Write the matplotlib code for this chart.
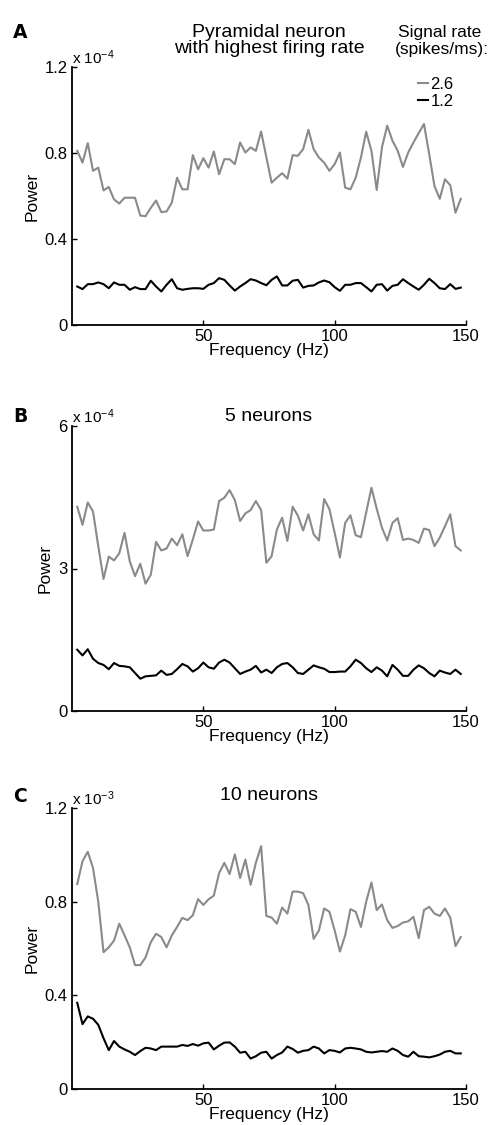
import numpy as np
import matplotlib
matplotlib.use('Agg')
import matplotlib.pyplot as plt

plt.rcParams['font.family'] = ['Liberation Sans', 'DejaVu Sans']
plt.rcParams['mathtext.default'] = 'regular'

# frequency bins (Hz), 2 Hz resolution
freq = np.arange(2, 149, 2)

# panel A, power in units of 1e-4
a_high = [0.81, 0.755, 0.846, 0.717, 0.732, 0.626, 0.642, 0.584, 0.565, 0.592,
          0.592, 0.592, 0.509, 0.506, 0.545, 0.579, 0.525, 0.528, 0.569, 0.685,
          0.631, 0.631, 0.79, 0.724, 0.776, 0.732, 0.807, 0.701, 0.771, 0.771,
          0.748, 0.849, 0.802, 0.826, 0.81, 0.9, 0.78,
          0.662, 0.685, 0.706, 0.681, 0.79, 0.787, 0.818, 0.908, 0.818, 0.779,
          0.755, 0.717, 0.748, 0.802, 0.639, 0.631, 0.685, 0.779, 0.899, 0.81,
          0.628, 0.826, 0.927, 0.857, 0.81, 0.735, 0.802, 0.849, 0.893, 0.935,
          0.794, 0.646, 0.587, 0.678, 0.65, 0.522, 0.587]
a_low = [0.179, 0.167, 0.19, 0.19, 0.198, 0.19, 0.171, 0.198, 0.187, 0.187,
         0.164, 0.176, 0.167, 0.167, 0.206, 0.179, 0.156, 0.187, 0.213, 0.171,
         0.164, 0.168, 0.171, 0.171, 0.168, 0.187, 0.195, 0.218, 0.21, 0.184,
         0.16, 0.179, 0.195, 0.213, 0.207, 0.195, 0.185, 0.21, 0.226,
         0.184, 0.184, 0.206, 0.21, 0.174, 0.182, 0.184, 0.198, 0.207, 0.199,
         0.176, 0.159, 0.187, 0.187, 0.195, 0.195, 0.176, 0.156, 0.187, 0.19,
         0.16, 0.182, 0.187, 0.213, 0.195, 0.179, 0.164, 0.187, 0.215, 0.195,
         0.171, 0.167, 0.19, 0.168, 0.174]

# panel B, units of 1e-4
b_high = [4.30, 3.92, 4.39, 4.20, 3.47, 2.78, 3.25, 3.17, 3.32, 3.75,
          3.15, 2.84, 3.10, 2.68, 2.87, 3.56, 3.38, 3.42, 3.63, 3.49,
          3.72, 3.26, 3.61, 3.99, 3.80, 3.80, 3.82, 4.42, 4.49, 4.65,
          4.44, 4.00, 4.16, 4.23, 4.42, 4.23, 3.12,
          3.26, 3.82, 4.07, 3.58, 4.30, 4.11, 3.80, 4.14, 3.72, 3.59,
          4.46, 4.25, 3.75, 3.23, 3.96, 4.12, 3.70, 3.66, 4.18, 4.70,
          4.26, 3.86, 3.59, 3.96, 4.06, 3.60, 3.63, 3.60, 3.54, 3.84,
          3.81, 3.47, 3.65, 3.89, 4.14, 3.47, 3.38]
b_low = [1.29, 1.17, 1.30, 1.10, 1.01, 0.97, 0.88, 1.01, 0.95, 0.94,
         0.92, 0.80, 0.68, 0.73, 0.74, 0.75, 0.85, 0.76, 0.78, 0.88,
         0.99, 0.94, 0.83, 0.90, 1.02, 0.92, 0.89, 1.02, 1.08, 1.02,
         0.90, 0.78, 0.83, 0.87, 0.95, 0.81, 0.87,
         0.80, 0.92, 0.99, 1.01, 0.92, 0.80, 0.78, 0.87, 0.96, 0.92,
         0.89, 0.82, 0.82, 0.83, 0.83, 0.94, 1.08, 1.01, 0.90, 0.82,
         0.92, 0.85, 0.73, 0.97, 0.87, 0.74, 0.74, 0.87, 0.96, 0.90,
         0.80, 0.73, 0.85, 0.81, 0.78, 0.87, 0.78]

# panel C, units of 1e-3
c_high = [0.875, 0.973, 1.013, 0.944, 0.80, 0.584, 0.605, 0.634, 0.706, 0.656,
          0.605, 0.529, 0.529, 0.562, 0.627, 0.663, 0.649, 0.605, 0.656, 0.692,
          0.731, 0.721, 0.742, 0.811, 0.786, 0.81, 0.826, 0.922, 0.966, 0.918,
          1.002, 0.901, 0.98, 0.872, 0.966, 1.037, 0.739,
          0.732, 0.706, 0.775, 0.749, 0.843, 0.843, 0.836, 0.786, 0.641, 0.677,
          0.771, 0.757, 0.677, 0.587, 0.656, 0.768, 0.757, 0.692, 0.80, 0.882,
          0.764, 0.788, 0.721, 0.688, 0.696, 0.711, 0.716, 0.735, 0.644, 0.764,
          0.778, 0.749, 0.739, 0.771, 0.732, 0.61, 0.649]
c_low = [0.368, 0.277, 0.31, 0.30, 0.274, 0.217, 0.166, 0.205, 0.181, 0.169,
         0.159, 0.145, 0.162, 0.176, 0.173, 0.166, 0.181, 0.181, 0.181, 0.181,
         0.188, 0.184, 0.192, 0.185, 0.195, 0.198, 0.169, 0.185, 0.198, 0.199,
         0.181, 0.155, 0.159, 0.13, 0.14, 0.155, 0.159,
         0.13, 0.145, 0.156, 0.181, 0.171, 0.155, 0.163, 0.166, 0.181, 0.173,
         0.152, 0.166, 0.163, 0.156, 0.173, 0.176, 0.173, 0.169, 0.159, 0.156,
         0.159, 0.162, 0.159, 0.173, 0.163, 0.145, 0.138, 0.159, 0.14, 0.138,
         0.135, 0.14, 0.147, 0.159, 0.163, 0.152, 0.152]

rate_labels = ['2.6', '1.2']
gray = '#8a8a8a'

W, H = 498, 1125
fig = plt.figure(figsize=(W / 100, H / 100), dpi=100)


def px_axes(top, bottom):
    return fig.add_axes([72 / W, 1 - bottom / H, 394 / W, (bottom - top) / H])


def panel(ax, high, low, ymax, yticks, exponent):
    l1, = ax.plot(freq, high, color=gray, lw=1.5)
    l2, = ax.plot(freq, low, color='black', lw=1.5)
    ax.set_xlim(0, 150)
    ax.set_ylim(0, ymax)
    ax.set_xticks([50, 100, 150])
    ax.set_yticks(yticks)
    ax.set_yticklabels(['%g' % t for t in yticks])
    for s in ['top', 'right']:
        ax.spines[s].set_visible(False)
    for s in ['left', 'bottom']:
        ax.spines[s].set_linewidth(1.3)
    ax.tick_params(direction='in', length=3.5, width=1, labelsize=12, pad=3)
    ax.set_xlabel('Frequency (Hz)', fontsize=12.5, labelpad=-1)
    ax.set_ylabel('Power', fontsize=12.5, labelpad=4)
    ax.text(0, 1, r'x 10$^{%d}$' % exponent, transform=ax.transAxes,
            ha='left', va='bottom', fontsize=11)
    return l1, l2


axA = px_axes(67, 325)
hA = panel(axA, a_high, a_low, 1.2, [0, 0.4, 0.8, 1.2], -4)
axB = px_axes(426, 711)
panel(axB, b_high, b_low, 6, [0, 3, 6], -4)
axC = px_axes(808, 1089)
panel(axC, c_high, c_low, 1.2, [0, 0.4, 0.8, 1.2], -3)

axA.legend(hA, rate_labels, loc='upper left', bbox_to_anchor=(418 / W, 1 - 77 / H),
           bbox_transform=fig.transFigure, frameon=False, fontsize=12,
           handlelength=0.6, handletextpad=0.15, labelspacing=0.1,
           borderpad=0, borderaxespad=0)

fig.text(440 / W, 1 - 37 / H, 'Signal rate', ha='center', va='baseline', fontsize=12.5)
fig.text(442 / W, 1 - 54 / H, '(spikes/ms):', ha='center', va='baseline', fontsize=12.5)

fig.text(269 / W, 1 - 37 / H, 'Pyramidal neuron', ha='center', va='baseline', fontsize=14)
fig.text(269 / W, 1 - 53 / H, 'with highest firing rate', ha='center', va='baseline', fontsize=14)
fig.text(269 / W, 1 - 421 / H, '5 neurons', ha='center', va='baseline', fontsize=14)
fig.text(269 / W, 1 - 800 / H, '10 neurons', ha='center', va='baseline', fontsize=14)

for letter, base in [('A', 38), ('B', 422), ('C', 802)]:
    fig.text(13 / W, 1 - base / H, letter, ha='left', va='baseline', fontsize=13.5,
             fontweight='bold', family='DejaVu Sans')

fig.savefig('out.png', dpi=100)
